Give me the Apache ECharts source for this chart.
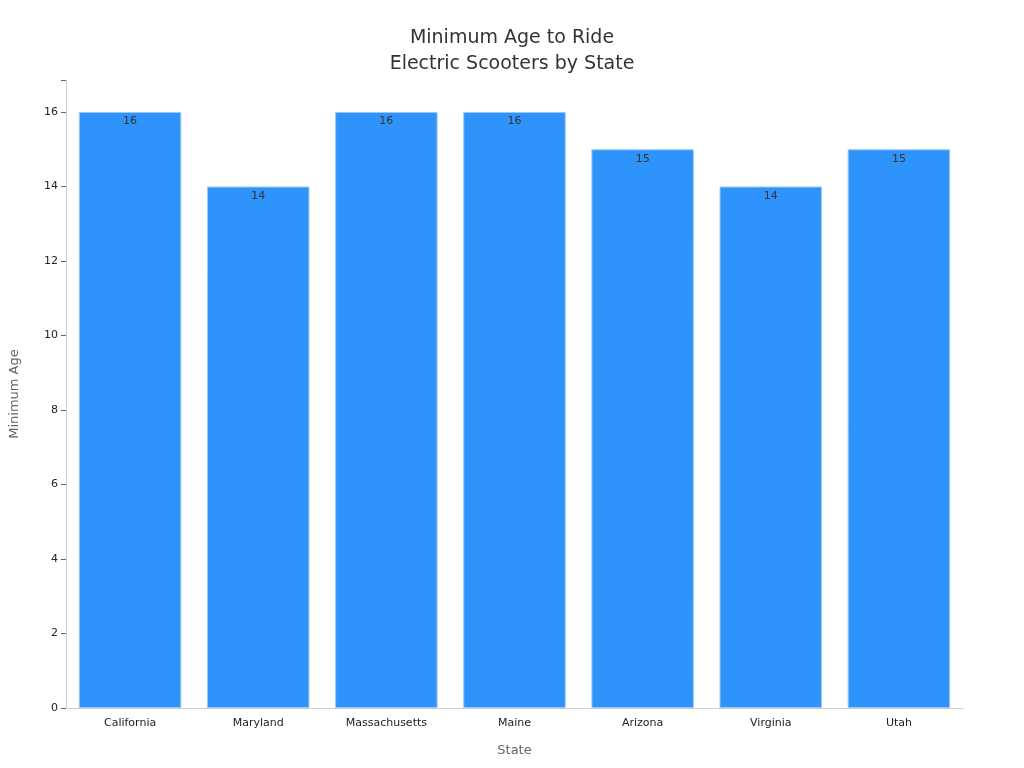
<!DOCTYPE html>
<html><head><meta charset="utf-8">
<script src="https://cdn.jsdelivr.net/npm/echarts@6/dist/echarts.min.js"></script>
<style>html,body{margin:0;padding:0;background:#fff}#c{width:1024px;height:768px}</style>
</head><body><div id="c"></div>
<script>
const categories = ["California","Maryland","Massachusetts","Maine","Arizona","Virginia","Utah"];
const values = [16,14,16,16,15,14,15];
const yTicks = [0,2,4,6,8,10,12,14,16];
const chart = echarts.init(document.getElementById('c'));
chart.setOption({
  animation:false,
  textStyle:{fontFamily:'DejaVu Sans'},
  title:{text:'Minimum Age to Ride\nElectric Scooters by State',left:'center',top:20,
    textStyle:{fontSize:19,fontWeight:'normal',color:'#333',lineHeight:26,fontFamily:'DejaVu Sans'}},
  grid:{left:60,right:61,top:80,bottom:60},
  xAxis:{type:'category',data:categories,name:'State',nameLocation:'middle',nameGap:36,
    nameTextStyle:{color:'#666',fontSize:13},
    axisLine:{lineStyle:{color:'#ccc'}},axisTick:{show:false},
    axisLabel:{color:'#222',fontSize:11,margin:10}},
  yAxis:{type:'value',min:0,max:16.86,interval:2,name:'Minimum Age',nameLocation:'middle',nameGap:45,
    nameTextStyle:{color:'#666',fontSize:13},
    axisLine:{show:true,lineStyle:{color:'#ccc'}},axisTick:{show:true,lineStyle:{color:'#666'}},
    splitLine:{show:false},
    axisLabel:{color:'#222',fontSize:11,formatter:v=>yTicks.includes(v)?String(v):''}},
  series:[{type:'bar',data:values,barCategoryGap:'20%',
    itemStyle:{color:'#2E93FA',borderColor:'#9cc8f5',borderWidth:1},
    label:{show:true,position:'insideTop',color:'#333',fontSize:11,distance:4}}]
});
</script></body></html>
